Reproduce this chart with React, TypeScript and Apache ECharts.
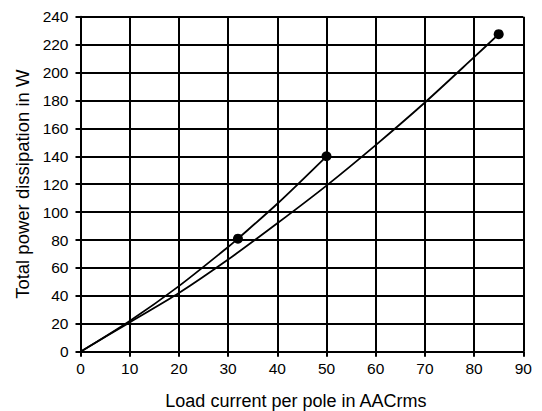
import React, { useEffect, useRef } from "react";
import * as echarts from "echarts";

const X_TICKS = [0, 10, 20, 30, 40, 50, 60, 70, 80, 90];
const Y_TICKS = [0, 20, 40, 60, 80, 100, 120, 140, 160, 180, 200, 220, 240];

const curveA_x = [0, 10, 20, 30, 40, 50, 60, 70, 80, 85];
const curveA_y = [0, 21, 42, 66, 92, 119, 148, 178.5, 211, 227.5];

const curveB_x = [0, 10, 20, 30, 32, 40, 50];
const curveB_y = [0, 22, 47, 75, 81, 106, 140];

const dots_x = [32, 50, 85];
const dots_y = [81, 140, 227.5];

const X_NAME = "Load current per pole in AACrms";
const Y_NAME = "Total power dissipation in W";

export default function App() {
  const ref = useRef<HTMLDivElement>(null);
  useEffect(() => {
    if (!ref.current) return;
    const chart = echarts.init(ref.current, null, { renderer: "svg" });
    const font = "'Liberation Sans', Arial, sans-serif";
    const zip = (xs: number[], ys: number[]) => xs.map((x, i) => [x, ys[i]]);
    chart.setOption({
      animation: false,
      backgroundColor: "#ffffff",
      grid: {
        left: 80.5,
        right: 18.7,
        top: 16.7,
        bottom: 59.3,
        containLabel: false,
        outerBoundsMode: "none",
      },
      xAxis: {
        type: "value",
        min: X_TICKS[0],
        max: X_TICKS[X_TICKS.length - 1],
        interval: 10,
        name: X_NAME,
        nameLocation: "middle",
        nameGap: 40,
        nameMoveOverlap: false,
        nameTextStyle: { color: "#000", fontSize: 18, fontFamily: font, padding: [0, 12, 0, 0] },
        axisLine: { show: true, lineStyle: { color: "#000", width: 2 } },
        axisTick: { show: true, length: 5, lineStyle: { color: "#000", width: 2 } },
        axisLabel: { color: "#000", fontSize: 15.5, fontFamily: font, margin: 9 },
        splitLine: { show: true, lineStyle: { color: "#000", width: 2 } },
      },
      yAxis: {
        type: "value",
        min: Y_TICKS[0],
        max: Y_TICKS[Y_TICKS.length - 1],
        interval: 20,
        name: Y_NAME,
        nameLocation: "middle",
        nameGap: 49,
        nameMoveOverlap: false,
        nameTextStyle: { color: "#000", fontSize: 18.5, fontFamily: font },
        axisLine: { show: true, lineStyle: { color: "#000", width: 2 } },
        axisTick: { show: true, length: 5, lineStyle: { color: "#000", width: 2 } },
        axisLabel: { color: "#000", fontSize: 15.5, fontFamily: font, margin: 12 },
        splitLine: { show: true, lineStyle: { color: "#000", width: 2 } },
      },
      series: [
        {
          type: "line",
          data: zip(curveA_x, curveA_y),
          smooth: 0.3,
          symbol: "none",
          lineStyle: { color: "#000", width: 1.8 },
          z: 3,
        },
        {
          type: "line",
          data: zip(curveB_x, curveB_y),
          smooth: 0.3,
          symbol: "none",
          lineStyle: { color: "#000", width: 1.8 },
          z: 3,
        },
        {
          type: "scatter",
          data: zip(dots_x, dots_y),
          symbol: "circle",
          symbolSize: 10,
          itemStyle: { color: "#000", opacity: 1 },
          z: 4,
        },
      ],
    });
    return () => chart.dispose();
  }, []);
  return <div ref={ref} style={{ width: 542, height: 411, position: "absolute", left: 0, top: 0 }} />;
}
